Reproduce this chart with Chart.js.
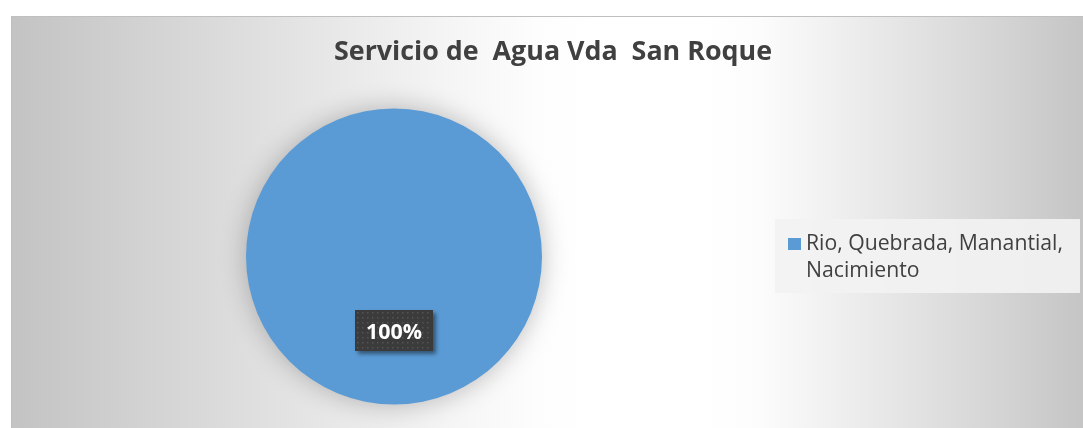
<!DOCTYPE html>
<html><head><meta charset="utf-8">
<script src="https://cdn.jsdelivr.net/npm/chart.js@4/dist/chart.umd.min.js"></script>
<style>html,body{margin:0;padding:0;background:#fff;}#wrap{width:1083px;height:428px;position:relative;}</style>
</head><body><div id="wrap"><canvas id="c" width="1083" height="428"></canvas></div>
<script>
const chartTitle = "Servicio de  Agua Vda  San Roque";
const categories = ["Rio, Quebrada, Manantial, Nacimiento"];
const legendLines = [["Rio, Quebrada, Manantial,", "Nacimiento"]];
const values = [100];
const sliceColors = ["#5b9bd5"];
const FONT = "'Open Sans', sans-serif";

function fitFont(ctx, text, weight, targetW, start) {
  let s = start;
  ctx.font = weight + " " + s + "px " + FONT;
  const w = ctx.measureText(text).width;
  s = s * targetW / w;
  ctx.font = weight + " " + s.toFixed(2) + "px " + FONT;
  return s;
}

const bgPlugin = {
  id: 'bg',
  beforeDraw(chart) {
    const ctx = chart.ctx;
    ctx.save();
    const x0 = 11, W = 1072;
    const g = ctx.createLinearGradient(x0, 0, x0 + W, 0);
    const stops = [[11,195],[150,211],[300,228],[450,245],[540,253],[600,255],[700,255],[760,252],[900,229],[1000,212],[1083,197]];
    stops.forEach(([x, v]) => g.addColorStop((x - x0) / W, `rgb(${v},${v},${v})`));
    ctx.fillStyle = g;
    ctx.fillRect(11, 16, 1072, 412);
    ctx.strokeStyle = '#c0c0c0';
    ctx.lineWidth = 1;
    ctx.strokeRect(11.5, 16.5, 1075, 420);
    ctx.restore();
  },
  beforeDatasetsDraw(chart) {
    const ctx = chart.ctx;
    ctx.save();
    ctx.shadowColor = 'rgba(0,0,0,0.25)';
    ctx.shadowBlur = 26;
    ctx.shadowOffsetX = 0;
    ctx.shadowOffsetY = 0;
  },
  afterDatasetsDraw(chart) {
    chart.ctx.restore();
  },
  afterDraw(chart) {
    const ctx = chart.ctx;
    ctx.save();
    // title
    ctx.fillStyle = '#404040';
    fitFont(ctx, chartTitle, 'bold', 438, 24);
    ctx.textAlign = 'center';
    ctx.textBaseline = 'alphabetic';
    ctx.fillText(chartTitle, 553, 60);
    // legend
    ctx.fillStyle = 'rgba(242,242,242,0.92)';
    ctx.fillRect(775, 219, 305, 74);
    const meta = chart.getDatasetMeta(0);
    chart.data.labels.forEach((lab, i) => {
      ctx.fillStyle = chart.data.datasets[0].backgroundColor[i];
      ctx.fillRect(788, 238, 13, 12);
      ctx.fillStyle = '#404040';
      fitFont(ctx, legendLines[i][0], 'normal', 257, 17);
      ctx.textAlign = 'left';
      ctx.textBaseline = 'alphabetic';
      legendLines[i].forEach((ln, k) => ctx.fillText(ln, 806, 250 + k * 27));
    });
    // data label
    meta.data.forEach((arc, i) => {
      const p = arc.getProps(['x','y','startAngle','endAngle','outerRadius']);
      const mid = (p.startAngle + p.endAngle) / 2;
      const lx = p.x + Math.cos(mid) * p.outerRadius * 0.5;
      const ly = p.y + Math.sin(mid) * p.outerRadius * 0.5;
      const total = chart.data.datasets[0].data.reduce((a,b)=>a+b,0);
      const txt = Math.round(chart.data.datasets[0].data[i] / total * 100) + '%';
      const w = 78, h = 41;
      const bx = Math.round(lx - w/2), by = Math.round(ly - h/2);
      ctx.save();
      ctx.shadowColor = 'rgba(0,0,0,0.45)';
      ctx.shadowOffsetX = 3; ctx.shadowOffsetY = 3; ctx.shadowBlur = 4;
      ctx.fillStyle = '#3b3b3b';
      ctx.fillRect(bx, by, w, h);
      ctx.restore();
      ctx.fillStyle = '#555555';
      for (let yy = by + 2; yy < by + h - 1; yy += 5)
        for (let xx = bx + 2; xx < bx + w - 1; xx += 5) ctx.fillRect(xx, yy, 1.5, 1.5);
      ctx.fillStyle = '#ffffff';
      fitFont(ctx, txt, 'bold', 56, 21);
      ctx.textAlign = 'center';
      ctx.textBaseline = 'alphabetic';
      ctx.fillText(txt, lx, by + 29);
    });
    ctx.restore();
  }
};

new Chart(document.getElementById('c'), {
  type: 'pie',
  data: {
    labels: categories,
    datasets: [{ data: values, backgroundColor: sliceColors, borderWidth: 0, clip: false }]
  },
  options: {
    responsive: false,
    animation: false,
    layout: { padding: { left: 246, right: 541, top: 108, bottom: 23 } },
    plugins: { legend: { display: false }, title: { display: false }, tooltip: { enabled: false } }
  },
  plugins: [bgPlugin]
});
</script></body></html>
